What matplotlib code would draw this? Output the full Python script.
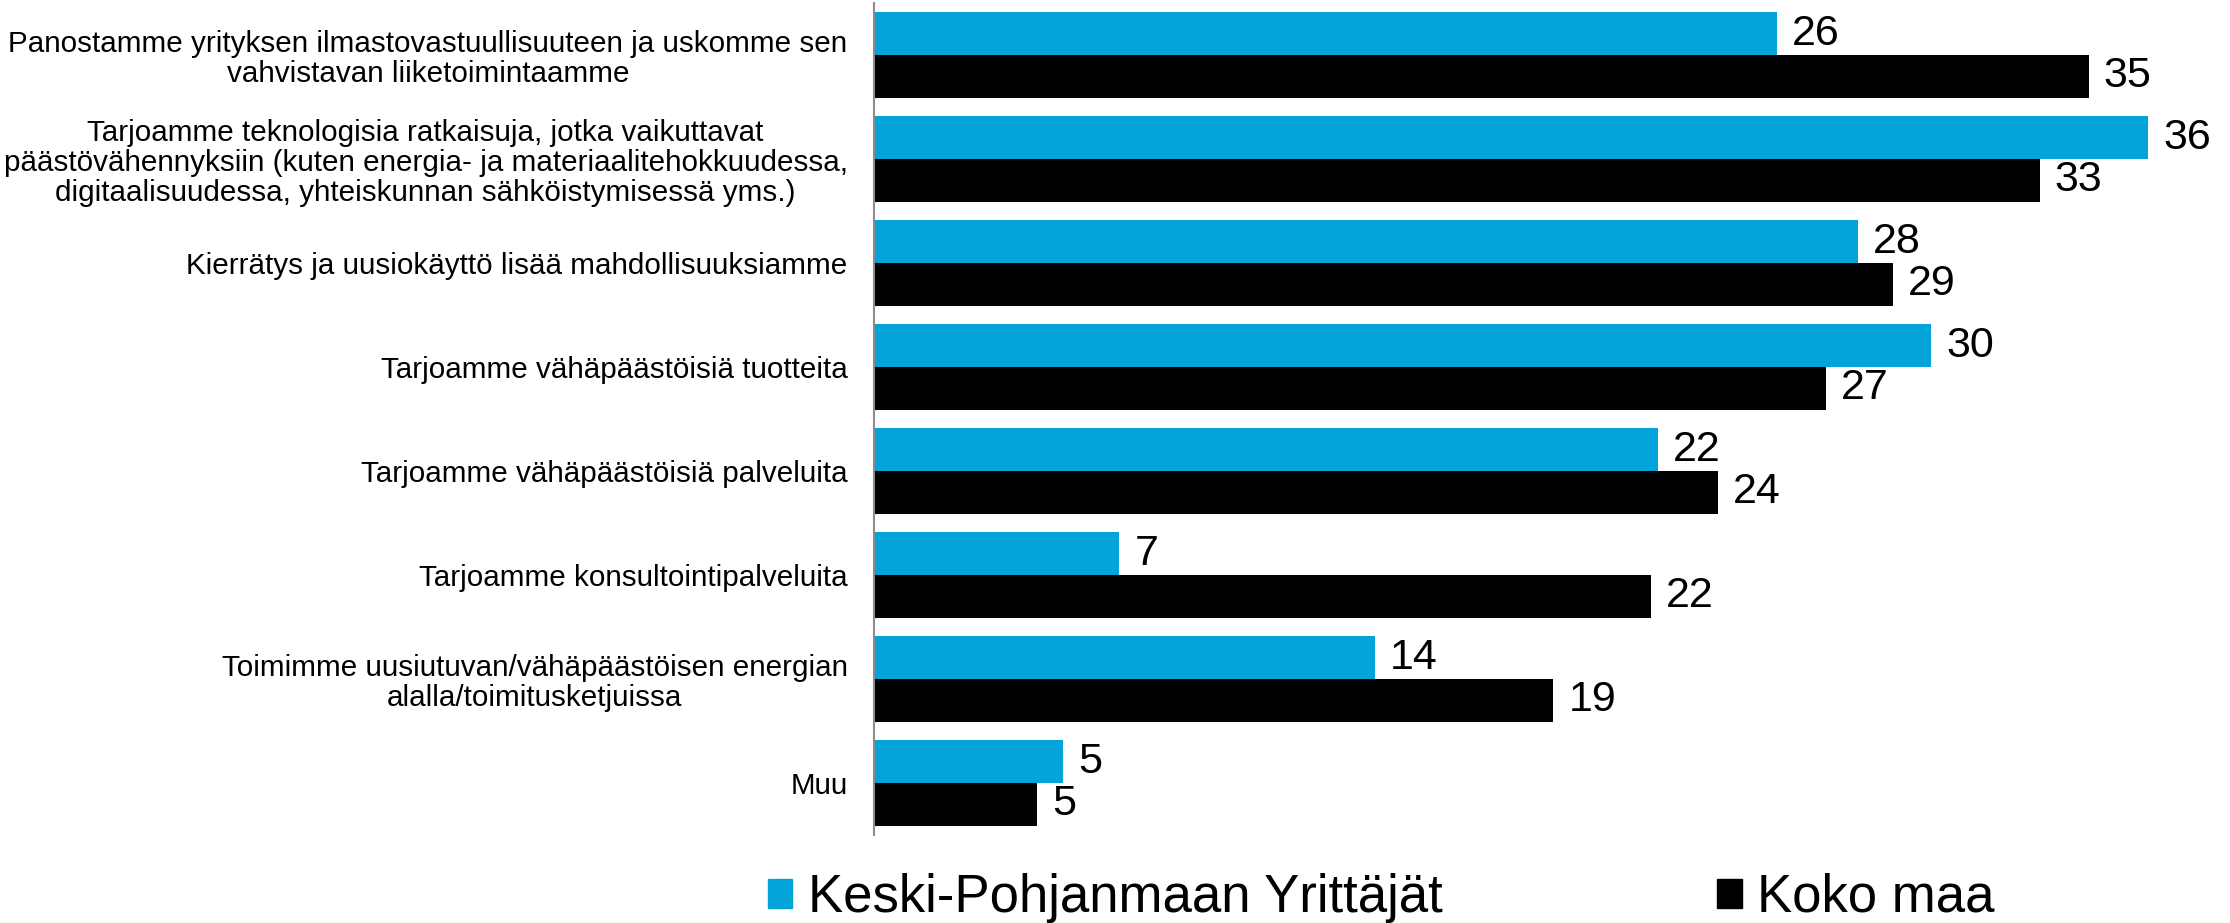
import matplotlib.pyplot as plt
from matplotlib.patches import Patch
import numpy as np

plt.rcParams['font.family'] = ['Liberation Sans', 'DejaVu Sans']

# === Data ===
categories = [
    "Panostamme yrityksen ilmastovastuullisuuteen ja uskomme sen\nvahvistavan liiketoimintaamme",
    "Tarjoamme teknologisia ratkaisuja, jotka vaikuttavat\npäästövähennyksiin (kuten energia- ja materiaalitehokkuudessa,\ndigitaalisuudessa, yhteiskunnan sähköistymisessä yms.)",
    "Kierrätys ja uusiokäyttö lisää mahdollisuuksiamme",
    "Tarjoamme vähäpäästöisiä tuotteita",
    "Tarjoamme vähäpäästöisiä palveluita",
    "Tarjoamme konsultointipalveluita",
    "Toimimme uusiutuvan/vähäpäästöisen energian\nalalla/toimitusketjuissa",
    "Muu",
]
series_names = ["Keski-Pohjanmaan Yrittäjät", "Koko maa"]
keski = [25.8, 36.4, 28.1, 30.2, 22.4, 7.0, 14.3, 5.4]
koko = [34.7, 33.3, 29.1, 27.2, 24.1, 22.2, 19.4, 4.66]
keski_labels = ["26", "36", "28", "30", "22", "7", "14", "5"]
koko_labels = ["35", "33", "29", "27", "24", "22", "19", "5"]

BLUE = "#02A4D9"
BLACK = "#000000"

fig = plt.figure(figsize=(22.30, 9.23), dpi=100)
ax = fig.add_axes([874 / 2230, 88 / 923, 1356 / 2230, 832 / 923])

y = np.arange(len(categories))
h = 0.413
ax.barh(y - h / 2, keski, height=h, color=BLUE)
ax.barh(y + h / 2, koko, height=h, color=BLACK)

# value labels
for i in range(len(categories)):
    ax.annotate(keski_labels[i], (keski[i], y[i] - h / 2), xytext=(11, 0),
                textcoords='offset points', va='center', ha='left', fontsize=31)
    ax.annotate(koko_labels[i], (koko[i], y[i] + h / 2), xytext=(11, 0),
                textcoords='offset points', va='center', ha='left', fontsize=31)

ax.set_xlim(0, 1356 / 35)
ax.set_ylim(len(categories) - 0.5, -0.5)
ax.set_yticks(y)
ax.set_yticklabels(categories, fontsize=21.3, linespacing=1.08)
for lbl in ax.get_yticklabels():
    lbl.set_multialignment('center')
ax.tick_params(axis='y', length=0, pad=19)
ax.set_xticks([])

for s in ['top', 'right', 'bottom']:
    ax.spines[s].set_visible(False)
ax.spines['left'].set_color('#8C8C8C')
ax.spines['left'].set_linewidth(1.5)

# === Legend ===
handles = [Patch(color=BLUE), Patch(color=BLACK)]
fig.legend(handles, series_names, loc='center left', bbox_to_anchor=(768 / 2230, 1 - 898 / 923),
           ncol=2, frameon=False, fontsize=38, handlelength=0.46, handleheight=0.46,
           handletextpad=0.3, columnspacing=5.2, borderpad=0, borderaxespad=0)

fig.savefig("out.png", dpi=100)
